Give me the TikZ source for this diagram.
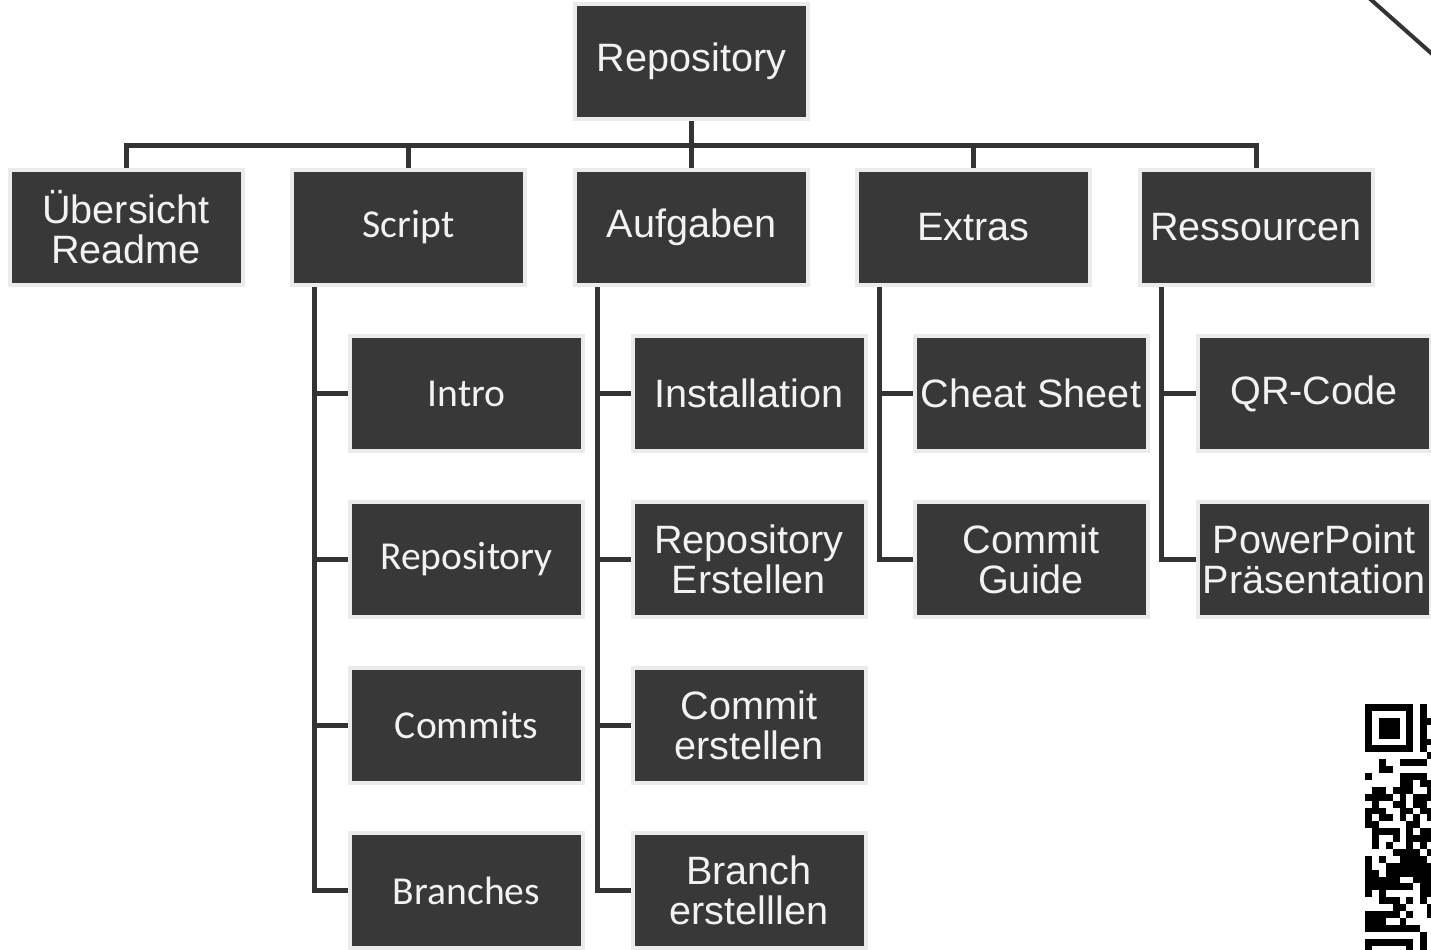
\documentclass[tikz,border=0pt]{standalone}
\usepackage{fontspec}
\setmainfont{Liberation Sans}
\newfontfamily\calfont{Carlito}
\usepackage{xcolor}
\usepackage{tikz}
\usetikzlibrary{positioning, calc, backgrounds}

\definecolor{boxfill}{RGB}{56,56,56}
\definecolor{boxedge}{RGB}{235,235,235}
\definecolor{linegray}{RGB}{51,51,51}
\definecolor{textwhite}{RGB}{242,242,242}

\tikzset{
  orgbox/.style={draw=boxedge, line width=2pt, fill=boxfill, text=textwhite,
    minimum width=116.5pt, minimum height=57.5pt, inner sep=0pt, align=center,
    font=\fontsize{19.8}{20}\selectfont},
  calbox/.style={orgbox, font=\calfont\fontsize{19.8}{20}\selectfont},
  link/.style={draw=linegray, line width=2.5pt},
}

\begin{document}
\begin{tikzpicture}[x=0.5pt,y=0.5pt,yscale=-1,xscale=1]
\useasboundingbox (0,0) rectangle (1431,949);

% Top node
\node[orgbox] (repo) at (691.5,61.5) {Repository};

% First level
\node[orgbox] (ueb)  at (126,227.5)    {Übersicht\\Readme};
\node[calbox] (scr)  at (408.5,227.5)  {Script};
\node[orgbox] (aufg) at (691.5,227.5)  {Aufgaben};
\node[orgbox] (extr) at (973.5,227.5)  {Extras};
\node[orgbox] (ress) at (1256,227.5)   {Ressourcen};

% Script children
\node[calbox] (intro)   at (466.5,393.5) {Intro};
\node[calbox] (screpo)  at (466.5,559.5) {Repository};
\node[calbox] (commits) at (466.5,725)   {Commits};
\node[calbox] (branches) at (466.5,890.5) {Branches};

% Aufgaben children
\node[orgbox] (install) at (749,393.5) {Installation};
\node[orgbox] (repoerst) at (749,559.5) {Repository\\Erstellen};
\node[orgbox] (commerst) at (749,725)   {Commit\\erstellen};
\node[orgbox] (brerst)   at (749,890.5) {Branch\\erstelllen};

% Extras children
\node[orgbox] (cheat)  at (1031,393.5) {Cheat Sheet};
\node[orgbox] (guide)  at (1031,559.5) {Commit\\Guide};

% Ressourcen children
\node[orgbox] (qrcode) at (1314,393.5) {QR-Code};
\node[orgbox] (ppt)    at (1314,559.5) {PowerPoint\\Präsentation};

% Connectors
\begin{scope}[on background layer]
\coordinate (bus) at (691.5,145);
\draw[link] (repo.south) -- (bus);
\foreach \n in {ueb,scr,aufg,extr,ress}
  \draw[link] (\n.north) |- (bus);
\foreach \kid in {intro,screpo,commits,branches}
  \draw[link] ($(scr.south)+(-94.5,0)$) |- (\kid.west);
\foreach \kid in {install,repoerst,commerst,brerst}
  \draw[link] ($(aufg.south)+(-94.5,0)$) |- (\kid.west);
\foreach \kid in {cheat,guide}
  \draw[link] ($(extr.south)+(-94.5,0)$) |- (\kid.west);
\foreach \kid in {qrcode,ppt}
  \draw[link] ($(ress.south)+(-94.5,0)$) |- (\kid.west);
\end{scope}

% Cut-off shapes at the right edge
\begin{scope}
\clip (0,0) rectangle (1431,949);
%Straight Lines
\draw[linegray, line width=2pt] (1368,-3) -- (1440,61);
% QR code (cut)
\foreach \r/\cols in {0/{0,1,2,3,4,5,6,8}, 1/{0,6,8}, 2/{0,2,3,4,6,8,9},
    3/{0,2,3,4,6,8}, 4/{0,2,3,4,6,8}, 5/{0,6,8,9}, 6/{0,1,2,3,4,5,6,8},
    7/{9}, 8/{2,5,6,7,8}, 9/{2,3}, 10/{0,5,6,7,8}, 11/{5,6,8,9},
    12/{1,2,4,5,6,9}, 13/{0,1,2,3,5,7,8,9}, 14/{1,4,5,7,8}, 15/{0,1,2,5,6,8,9},
    16/{0,2,3,5,7,9}, 17/{0,1,6,7}, 18/{1,2,3,4,6,8,9}, 19/{1,4,6,7,8,9},
    20/{1,3,6,8}, 21/{4,5,6,7,9}, 22/{0,2,5,6,7,8}, 23/{0,3,4,5,6,7,8,9},
    24/{0,1,3,4,5,6,7,8,9}, 25/{0,1,2,3,4,7,8,9}, 26/{0,1,2,3,4,5,6,8,9},
    27/{0,2,8,9}, 28/{2,3,4,6,8}, 29/{4,5,9}, 30/{0,1,2,3,4,6,9},
    31/{0,1,2,5}, 32/{0,1,2,3,4,5,6,7}, 33/{8}, 34/{0,1,2,3,4,5,6,8},
    35/{0,6,8}}
  \foreach \c in \cols
    \fill[black] (1365+6.9*\c,704+6.9*\r) rectangle ++(6.9,6.9);
\end{scope}

\end{tikzpicture}
\end{document}
